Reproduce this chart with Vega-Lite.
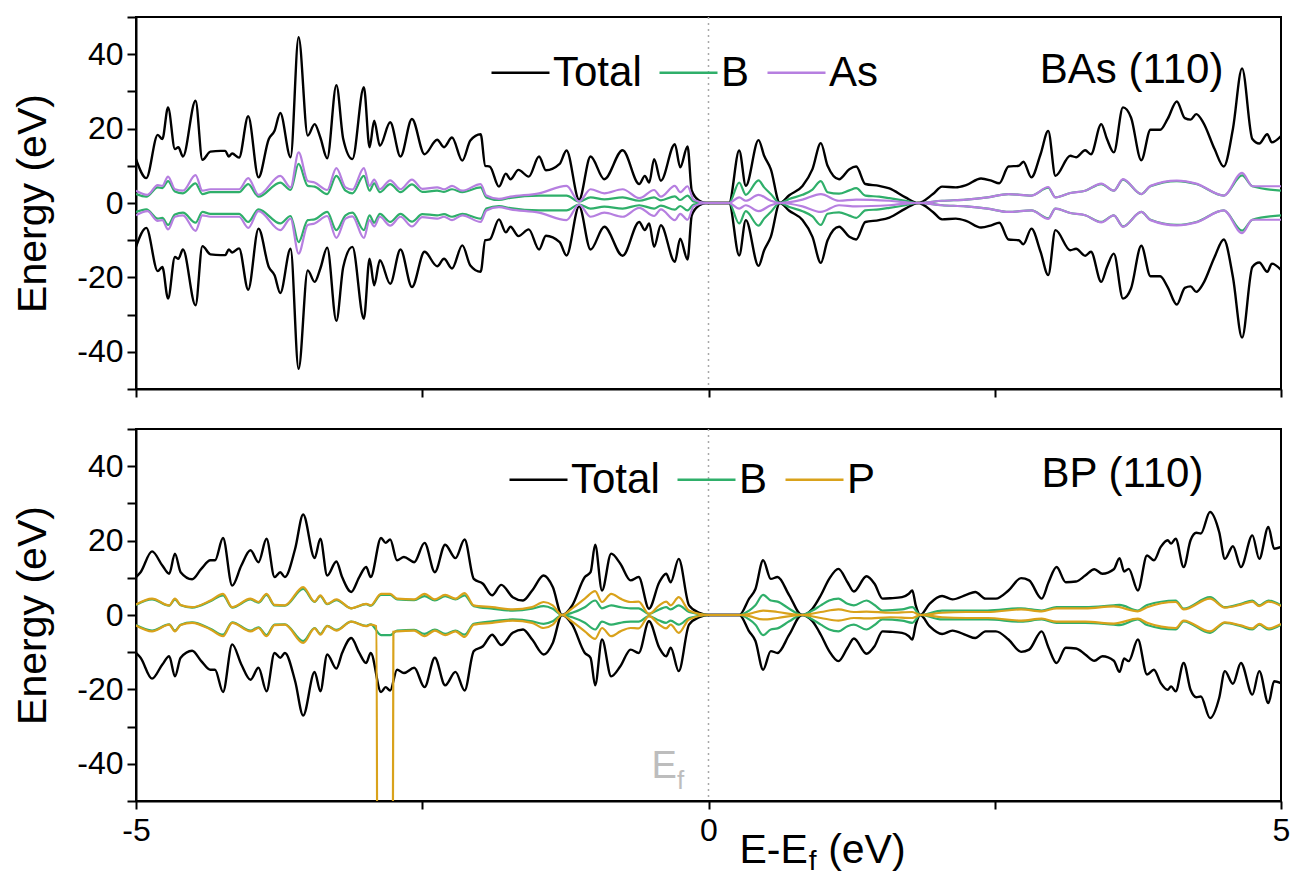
{
  "$schema": "https://vega.github.io/schema/vega-lite/v6.json",
  "background": "white",
  "padding": {"left": 11, "top": 0, "right": 2, "bottom": 2},
  "config": {
    "font": "Liberation Sans",
    "view": {"stroke": "black", "strokeWidth": 2},
    "axis": {"domainColor": "black", "domainWidth": 2, "tickColor": "black", "tickWidth": 2, "labelFont": "Liberation Sans", "labelFontSize": 32, "labelColor": "black", "labelOverlap": false, "titleFont": "Liberation Sans", "titleFontSize": 41, "titleFontWeight": "normal", "titleColor": "black", "grid": false},
    "legend": {"orient": "none", "direction": "horizontal", "symbolType": "stroke", "symbolSize": 3364, "symbolStrokeWidth": 2.5, "labelFont": "Liberation Sans", "labelFontSize": 42, "labelColor": "black", "labelOffset": 2, "columnPadding": 12, "padding": 0, "labelLimit": 400},
    "concat": {"spacing": 6}
  },
  "datasets": {
    "basTotal": [
      {"e":-5.0,"up":11.8,"dn":-11.8},{"e":-4.91,"up":6.7,"dn":-6.7},{"e":-4.81,"up":18.3,"dn":-18.3},{"e":-4.77,"up":17.2,"dn":-17.2},{"e":-4.72,"up":25.7,"dn":-25.7},{"e":-4.66,"up":14.5,"dn":-14.5},{"e":-4.63,"up":15.0,"dn":-15.0},{"e":-4.59,"up":12.5,"dn":-12.5},{"e":-4.48,"up":27.5,"dn":-27.5},{"e":-4.42,"up":11.6,"dn":-11.6},{"e":-4.35,"up":13.8,"dn":-13.8},{"e":-4.26,"up":14.0,"dn":-14.0},{"e":-4.22,"up":14.0,"dn":-14.0},{"e":-4.19,"up":12.5,"dn":-12.5},{"e":-4.16,"up":13.3,"dn":-13.3},{"e":-4.10,"up":12.2,"dn":-12.2},{"e":-4.02,"up":23.3,"dn":-23.3},{"e":-3.93,"up":6.9,"dn":-6.9},{"e":-3.84,"up":17.2,"dn":-17.2},{"e":-3.79,"up":19.4,"dn":-19.4},{"e":-3.74,"up":24.2,"dn":-24.2},{"e":-3.65,"up":12.3,"dn":-12.3},{"e":-3.58,"up":44.6,"dn":-44.6},{"e":-3.50,"up":18.1,"dn":-18.1},{"e":-3.44,"up":21.2,"dn":-21.2},{"e":-3.39,"up":17.6,"dn":-17.6},{"e":-3.33,"up":12.0,"dn":-12.0},{"e":-3.25,"up":31.7,"dn":-31.7},{"e":-3.19,"up":17.2,"dn":-17.2},{"e":-3.11,"up":11.8,"dn":-11.8},{"e":-3.01,"up":31.1,"dn":-31.1},{"e":-2.96,"up":15.0,"dn":-15.0},{"e":-2.92,"up":22.1,"dn":-22.1},{"e":-2.87,"up":15.4,"dn":-15.4},{"e":-2.78,"up":21.7,"dn":-21.7},{"e":-2.69,"up":12.5,"dn":-12.5},{"e":-2.59,"up":22.6,"dn":-22.6},{"e":-2.48,"up":13.1,"dn":-13.1},{"e":-2.37,"up":17.0,"dn":-17.0},{"e":-2.31,"up":15.0,"dn":-15.0},{"e":-2.24,"up":17.6,"dn":-17.6},{"e":-2.15,"up":11.4,"dn":-11.4},{"e":-2.08,"up":16.8,"dn":-16.8},{"e":-1.99,"up":18.5,"dn":-18.5},{"e":-1.95,"up":10.0,"dn":-10.0},{"e":-1.91,"up":9.8,"dn":-9.8},{"e":-1.83,"up":4.4,"dn":-4.4},{"e":-1.77,"up":7.9,"dn":-7.9},{"e":-1.73,"up":6.4,"dn":-6.4},{"e":-1.66,"up":8.9,"dn":-8.9},{"e":-1.57,"up":7.1,"dn":-7.1},{"e":-1.48,"up":12.5,"dn":-12.5},{"e":-1.42,"up":8.8,"dn":-8.8},{"e":-1.30,"up":10.5,"dn":-10.5},{"e":-1.24,"up":14.1,"dn":-14.1},{"e":-1.13,"up":0.9,"dn":-0.9},{"e":-1.03,"up":12.5,"dn":-12.5},{"e":-0.91,"up":6.4,"dn":-6.4},{"e":-0.75,"up":14.2,"dn":-14.2},{"e":-0.605,"up":5.1,"dn":-5.1},{"e":-0.556,"up":7.3,"dn":-7.3},{"e":-0.518,"up":5.5,"dn":-5.5},{"e":-0.475,"up":11.8,"dn":-11.8},{"e":-0.416,"up":6.0,"dn":-6.0},{"e":-0.294,"up":15.8,"dn":-15.8},{"e":-0.247,"up":9.6,"dn":-9.6},{"e":-0.183,"up":15.2,"dn":-15.2},{"e":-0.146,"up":3.3,"dn":-3.3},{"e":-0.08,"up":0.6,"dn":-0.6},{"e":-0.02,"up":0,"dn":0},{"e":0.18,"up":0,"dn":0},{"e":0.268,"up":14.1,"dn":-14.1},{"e":0.326,"up":4.6,"dn":-4.6},{"e":0.437,"up":16.9,"dn":-16.9},{"e":0.486,"up":12.7,"dn":-12.7},{"e":0.544,"up":9.1,"dn":-9.1},{"e":0.623,"up":0,"dn":0},{"e":0.705,"up":2.1,"dn":-2.1},{"e":0.821,"up":4.6,"dn":-4.6},{"e":0.908,"up":9.1,"dn":-9.1},{"e":0.981,"up":16.1,"dn":-16.1},{"e":1.04,"up":10.0,"dn":-10.0},{"e":1.14,"up":6.4,"dn":-6.4},{"e":1.23,"up":9.1,"dn":-9.1},{"e":1.29,"up":9.8,"dn":-9.8},{"e":1.37,"up":5.1,"dn":-5.1},{"e":1.49,"up":4.6,"dn":-4.6},{"e":1.58,"up":3.9,"dn":-3.9},{"e":1.72,"up":1.5,"dn":-1.5},{"e":1.83,"up":0,"dn":0},{"e":1.96,"up":2.4,"dn":-2.4},{"e":2.04,"up":4.4,"dn":-4.4},{"e":2.16,"up":4.2,"dn":-4.2},{"e":2.25,"up":4.8,"dn":-4.8},{"e":2.38,"up":6.6,"dn":-6.6},{"e":2.47,"up":6.0,"dn":-6.0},{"e":2.54,"up":5.3,"dn":-5.3},{"e":2.62,"up":9.8,"dn":-9.8},{"e":2.71,"up":10.0,"dn":-10.0},{"e":2.75,"up":11.1,"dn":-11.1},{"e":2.82,"up":6.9,"dn":-6.9},{"e":2.90,"up":13.1,"dn":-13.1},{"e":2.967,"up":19.4,"dn":-19.4},{"e":3.03,"up":7.3,"dn":-7.3},{"e":3.16,"up":12.7,"dn":-12.7},{"e":3.21,"up":12.3,"dn":-12.3},{"e":3.29,"up":14.2,"dn":-14.2},{"e":3.34,"up":13.1,"dn":-13.1},{"e":3.43,"up":21.2,"dn":-21.2},{"e":3.48,"up":17.2,"dn":-17.2},{"e":3.54,"up":13.6,"dn":-13.6},{"e":3.62,"up":25.7,"dn":-25.7},{"e":3.69,"up":23.0,"dn":-23.0},{"e":3.78,"up":11.5,"dn":-11.5},{"e":3.86,"up":19.7,"dn":-19.7},{"e":3.945,"up":19.7,"dn":-19.7},{"e":4.01,"up":22.6,"dn":-22.6},{"e":4.09,"up":27.3,"dn":-27.3},{"e":4.16,"up":22.8,"dn":-22.8},{"e":4.21,"up":22.4,"dn":-22.4},{"e":4.26,"up":23.9,"dn":-23.9},{"e":4.32,"up":21.7,"dn":-21.7},{"e":4.42,"up":14.5,"dn":-14.5},{"e":4.50,"up":9.8,"dn":-9.8},{"e":4.58,"up":19.9,"dn":-19.9},{"e":4.66,"up":36.2,"dn":-36.2},{"e":4.75,"up":17.2,"dn":-17.2},{"e":4.81,"up":16.0,"dn":-16.0},{"e":4.88,"up":18.5,"dn":-18.5},{"e":4.92,"up":16.3,"dn":-16.3},{"e":5.0,"up":18.0,"dn":-18.0}
    ],
    "basB": [
      {"e":-5.0,"up":2.4,"dn":-2.4},{"e":-4.91,"up":1.7,"dn":-1.7},{"e":-4.81,"up":4.2,"dn":-4.2},{"e":-4.77,"up":4.0,"dn":-4.0},{"e":-4.72,"up":5.9,"dn":-5.9},{"e":-4.66,"up":3.1,"dn":-3.1},{"e":-4.59,"up":2.6,"dn":-2.6},{"e":-4.48,"up":5.3,"dn":-5.3},{"e":-4.42,"up":2.4,"dn":-2.4},{"e":-4.35,"up":2.9,"dn":-2.9},{"e":-4.10,"up":2.9,"dn":-2.9},{"e":-4.02,"up":5.1,"dn":-5.1},{"e":-3.93,"up":1.7,"dn":-1.7},{"e":-3.74,"up":5.5,"dn":-5.5},{"e":-3.65,"up":3.5,"dn":-3.5},{"e":-3.58,"up":10.5,"dn":-10.5},{"e":-3.50,"up":4.6,"dn":-4.6},{"e":-3.44,"up":4.4,"dn":-4.4},{"e":-3.33,"up":2.4,"dn":-2.4},{"e":-3.25,"up":7.3,"dn":-7.3},{"e":-3.17,"up":3.3,"dn":-3.3},{"e":-3.11,"up":2.6,"dn":-2.6},{"e":-3.01,"up":7.3,"dn":-7.3},{"e":-2.96,"up":3.3,"dn":-3.3},{"e":-2.92,"up":5.3,"dn":-5.3},{"e":-2.87,"up":2.9,"dn":-2.9},{"e":-2.78,"up":5.1,"dn":-5.1},{"e":-2.69,"up":2.9,"dn":-2.9},{"e":-2.59,"up":5.0,"dn":-5.0},{"e":-2.50,"up":3.0,"dn":-3.0},{"e":-2.37,"up":3.3,"dn":-3.3},{"e":-2.31,"up":3.0,"dn":-3.0},{"e":-2.24,"up":3.7,"dn":-3.7},{"e":-2.15,"up":2.9,"dn":-2.9},{"e":-1.99,"up":4.2,"dn":-4.2},{"e":-1.94,"up":1.5,"dn":-1.5},{"e":-1.83,"up":0.8,"dn":-0.8},{"e":-1.73,"up":1.4,"dn":-1.4},{"e":-1.48,"up":2.0,"dn":-2.0},{"e":-1.24,"up":2.0,"dn":-2.0},{"e":-1.13,"up":0.4,"dn":-0.4},{"e":-1.03,"up":1.5,"dn":-1.5},{"e":-0.91,"up":1.0,"dn":-1.0},{"e":-0.75,"up":1.5,"dn":-1.5},{"e":-0.605,"up":0.6,"dn":-0.6},{"e":-0.475,"up":1.5,"dn":-1.5},{"e":-0.416,"up":0.7,"dn":-0.7},{"e":-0.294,"up":1.8,"dn":-1.8},{"e":-0.247,"up":0.8,"dn":-0.8},{"e":-0.183,"up":2.0,"dn":-2.0},{"e":-0.13,"up":0.4,"dn":-0.4},{"e":-0.02,"up":0,"dn":0},{"e":0.18,"up":0,"dn":0},{"e":0.268,"up":5.5,"dn":-5.5},{"e":0.326,"up":2.2,"dn":-2.2},{"e":0.437,"up":6.1,"dn":-6.1},{"e":0.486,"up":4.2,"dn":-4.2},{"e":0.544,"up":2.4,"dn":-2.4},{"e":0.623,"up":0,"dn":0},{"e":0.705,"up":1.1,"dn":-1.1},{"e":0.821,"up":2.2,"dn":-2.2},{"e":0.908,"up":3.6,"dn":-3.6},{"e":0.981,"up":5.9,"dn":-5.9},{"e":1.04,"up":2.9,"dn":-2.9},{"e":1.14,"up":2.5,"dn":-2.5},{"e":1.23,"up":3.4,"dn":-3.4},{"e":1.29,"up":4.0,"dn":-4.0},{"e":1.37,"up":2.0,"dn":-2.0},{"e":1.49,"up":1.7,"dn":-1.7},{"e":1.58,"up":1.3,"dn":-1.3},{"e":1.72,"up":0.6,"dn":-0.6},{"e":1.83,"up":0,"dn":0},{"e":2.04,"up":0.6,"dn":-0.6},{"e":2.25,"up":0.9,"dn":-0.9},{"e":2.437,"up":1.5,"dn":-1.5},{"e":2.62,"up":2.4,"dn":-2.4},{"e":2.82,"up":2.0,"dn":-2.0},{"e":2.967,"up":4.1,"dn":-4.1},{"e":3.03,"up":1.5,"dn":-1.5},{"e":3.16,"up":2.7,"dn":-2.7},{"e":3.29,"up":3.3,"dn":-3.3},{"e":3.43,"up":5.1,"dn":-5.1},{"e":3.54,"up":3.3,"dn":-3.3},{"e":3.62,"up":6.3,"dn":-6.3},{"e":3.78,"up":2.4,"dn":-2.4},{"e":3.86,"up":4.5,"dn":-4.5},{"e":4.09,"up":5.9,"dn":-5.9},{"e":4.26,"up":5.1,"dn":-5.1},{"e":4.50,"up":2.0,"dn":-2.0},{"e":4.66,"up":7.4,"dn":-7.4},{"e":4.75,"up":4.5,"dn":-4.5},{"e":5.0,"up":3.3,"dn":-3.3}
    ],
    "basAs": [
      {"e":-5.0,"up":3.3,"dn":-3.3},{"e":-4.90,"up":2.2,"dn":-2.2},{"e":-4.81,"up":4.8,"dn":-4.8},{"e":-4.77,"up":4.6,"dn":-4.6},{"e":-4.72,"up":7.1,"dn":-7.1},{"e":-4.66,"up":3.7,"dn":-3.7},{"e":-4.59,"up":3.3,"dn":-3.3},{"e":-4.48,"up":7.5,"dn":-7.5},{"e":-4.42,"up":3.3,"dn":-3.3},{"e":-4.35,"up":3.7,"dn":-3.7},{"e":-4.10,"up":3.7,"dn":-3.7},{"e":-4.02,"up":6.7,"dn":-6.7},{"e":-3.93,"up":2.2,"dn":-2.2},{"e":-3.74,"up":7.3,"dn":-7.3},{"e":-3.65,"up":4.2,"dn":-4.2},{"e":-3.58,"up":13.6,"dn":-13.6},{"e":-3.50,"up":5.9,"dn":-5.9},{"e":-3.44,"up":5.5,"dn":-5.5},{"e":-3.33,"up":3.5,"dn":-3.5},{"e":-3.25,"up":9.4,"dn":-9.4},{"e":-3.17,"up":4.2,"dn":-4.2},{"e":-3.11,"up":3.6,"dn":-3.6},{"e":-3.01,"up":9.4,"dn":-9.4},{"e":-2.96,"up":4.6,"dn":-4.6},{"e":-2.92,"up":6.3,"dn":-6.3},{"e":-2.87,"up":3.7,"dn":-3.7},{"e":-2.78,"up":6.1,"dn":-6.1},{"e":-2.69,"up":3.7,"dn":-3.7},{"e":-2.59,"up":6.3,"dn":-6.3},{"e":-2.50,"up":3.8,"dn":-3.8},{"e":-2.37,"up":4.2,"dn":-4.2},{"e":-2.31,"up":3.7,"dn":-3.7},{"e":-2.24,"up":4.6,"dn":-4.6},{"e":-2.15,"up":3.3,"dn":-3.3},{"e":-1.99,"up":5.1,"dn":-5.1},{"e":-1.94,"up":2.0,"dn":-2.0},{"e":-1.83,"up":1.1,"dn":-1.1},{"e":-1.73,"up":1.7,"dn":-1.7},{"e":-1.48,"up":2.6,"dn":-2.6},{"e":-1.24,"up":4.6,"dn":-4.6},{"e":-1.13,"up":0.4,"dn":-0.4},{"e":-1.03,"up":3.7,"dn":-3.7},{"e":-0.91,"up":2.6,"dn":-2.6},{"e":-0.75,"up":3.7,"dn":-3.7},{"e":-0.605,"up":1.3,"dn":-1.3},{"e":-0.475,"up":3.5,"dn":-3.5},{"e":-0.416,"up":1.7,"dn":-1.7},{"e":-0.294,"up":4.6,"dn":-4.6},{"e":-0.247,"up":2.9,"dn":-2.9},{"e":-0.183,"up":4.5,"dn":-4.5},{"e":-0.13,"up":0.9,"dn":-0.9},{"e":-0.02,"up":0,"dn":0},{"e":0.18,"up":0,"dn":0},{"e":0.268,"up":1.5,"dn":-1.5},{"e":0.326,"up":0.6,"dn":-0.6},{"e":0.437,"up":2.2,"dn":-2.2},{"e":0.544,"up":0.6,"dn":-0.6},{"e":0.623,"up":0,"dn":0},{"e":0.821,"up":0.9,"dn":-0.9},{"e":0.981,"up":2.4,"dn":-2.4},{"e":1.14,"up":0.6,"dn":-0.6},{"e":1.29,"up":0.9,"dn":-0.9},{"e":1.58,"up":0.6,"dn":-0.6},{"e":1.83,"up":0,"dn":0},{"e":2.04,"up":0.6,"dn":-0.6},{"e":2.25,"up":0.9,"dn":-0.9},{"e":2.437,"up":1.5,"dn":-1.5},{"e":2.62,"up":2.4,"dn":-2.4},{"e":2.82,"up":2.0,"dn":-2.0},{"e":2.967,"up":4.3,"dn":-4.3},{"e":3.03,"up":1.5,"dn":-1.5},{"e":3.16,"up":2.7,"dn":-2.7},{"e":3.29,"up":3.3,"dn":-3.3},{"e":3.43,"up":5.2,"dn":-5.2},{"e":3.54,"up":3.3,"dn":-3.3},{"e":3.62,"up":6.4,"dn":-6.4},{"e":3.78,"up":2.4,"dn":-2.4},{"e":3.86,"up":4.6,"dn":-4.6},{"e":4.09,"up":6.0,"dn":-6.0},{"e":4.26,"up":5.2,"dn":-5.2},{"e":4.50,"up":2.0,"dn":-2.0},{"e":4.66,"up":8.1,"dn":-8.1},{"e":4.75,"up":4.5,"dn":-4.5},{"e":5.0,"up":4.5,"dn":-4.5}
    ],
    "bpTotal": [
      {"e":-5.0,"up":10.2,"dn":-10.2},{"e":-4.96,"up":11.5,"dn":-11.5},{"e":-4.86,"up":17.1,"dn":-17.1},{"e":-4.77,"up":13.3,"dn":-13.3},{"e":-4.71,"up":11.1,"dn":-11.1},{"e":-4.66,"up":16.5,"dn":-16.5},{"e":-4.61,"up":11.5,"dn":-11.5},{"e":-4.51,"up":9.6,"dn":-9.6},{"e":-4.43,"up":12.4,"dn":-12.4},{"e":-4.35,"up":14.7,"dn":-14.7},{"e":-4.31,"up":14.7,"dn":-14.7},{"e":-4.24,"up":20.7,"dn":-20.7},{"e":-4.16,"up":7.9,"dn":-7.9},{"e":-4.08,"up":13.3,"dn":-13.3},{"e":-4.00,"up":17.4,"dn":-17.4},{"e":-3.93,"up":14.2,"dn":-14.2},{"e":-3.86,"up":20.5,"dn":-20.5},{"e":-3.79,"up":10.2,"dn":-10.2},{"e":-3.74,"up":11.5,"dn":-11.5},{"e":-3.70,"up":10.2,"dn":-10.2},{"e":-3.61,"up":17.8,"dn":-17.8},{"e":-3.54,"up":27.0,"dn":-27.0},{"e":-3.44,"up":15.3,"dn":-15.3},{"e":-3.39,"up":20.5,"dn":-20.5},{"e":-3.33,"up":10.6,"dn":-10.6},{"e":-3.25,"up":14.4,"dn":-14.4},{"e":-3.20,"up":10.2,"dn":-10.2},{"e":-3.12,"up":6.2,"dn":-6.2},{"e":-3.05,"up":10.2,"dn":-10.2},{"e":-2.99,"up":12.9,"dn":-12.9},{"e":-2.95,"up":10.2,"dn":-10.2},{"e":-2.86,"up":20.7,"dn":-20.7},{"e":-2.82,"up":19.4,"dn":-19.4},{"e":-2.78,"up":20.3,"dn":-20.3},{"e":-2.72,"up":14.7,"dn":-14.7},{"e":-2.66,"up":15.6,"dn":-15.6},{"e":-2.57,"up":14.2,"dn":-14.2},{"e":-2.48,"up":19.4,"dn":-19.4},{"e":-2.39,"up":11.5,"dn":-11.5},{"e":-2.30,"up":18.9,"dn":-18.9},{"e":-2.21,"up":15.3,"dn":-15.3},{"e":-2.13,"up":20.3,"dn":-20.3},{"e":-2.05,"up":9.7,"dn":-9.7},{"e":-1.97,"up":8.4,"dn":-8.4},{"e":-1.89,"up":5.3,"dn":-5.3},{"e":-1.81,"up":8.1,"dn":-8.1},{"e":-1.71,"up":4.8,"dn":-4.8},{"e":-1.62,"up":3.9,"dn":-3.9},{"e":-1.54,"up":6.6,"dn":-6.6},{"e":-1.44,"up":10.6,"dn":-10.6},{"e":-1.36,"up":7.5,"dn":-7.5},{"e":-1.28,"up":0,"dn":0},{"e":-1.19,"up":2.6,"dn":-2.6},{"e":-1.08,"up":10.2,"dn":-10.2},{"e":-1.03,"up":11.5,"dn":-11.5},{"e":-0.99,"up":18.9,"dn":-18.9},{"e":-0.93,"up":6.6,"dn":-6.6},{"e":-0.85,"up":16.5,"dn":-16.5},{"e":-0.77,"up":13.8,"dn":-13.8},{"e":-0.68,"up":9.3,"dn":-9.3},{"e":-0.61,"up":10.2,"dn":-10.2},{"e":-0.52,"up":1.7,"dn":-1.7},{"e":-0.43,"up":8.8,"dn":-8.8},{"e":-0.37,"up":11.1,"dn":-11.1},{"e":-0.33,"up":8.8,"dn":-8.8},{"e":-0.26,"up":15.1,"dn":-15.1},{"e":-0.17,"up":2.6,"dn":-2.6},{"e":-0.08,"up":0.6,"dn":-0.6},{"e":0.0,"up":0,"dn":0},{"e":0.27,"up":0,"dn":0},{"e":0.355,"up":4.4,"dn":-4.4},{"e":0.41,"up":7.0,"dn":-7.0},{"e":0.477,"up":14.7,"dn":-14.7},{"e":0.544,"up":9.7,"dn":-9.7},{"e":0.603,"up":10.2,"dn":-10.2},{"e":0.705,"up":5.3,"dn":-5.3},{"e":0.815,"up":0,"dn":0},{"e":0.908,"up":1.7,"dn":-1.7},{"e":0.981,"up":5.3,"dn":-5.3},{"e":1.054,"up":9.7,"dn":-9.7},{"e":1.135,"up":12.4,"dn":-12.4},{"e":1.214,"up":8.8,"dn":-8.8},{"e":1.27,"up":6.3,"dn":-6.3},{"e":1.38,"up":10.4,"dn":-10.4},{"e":1.45,"up":8.4,"dn":-8.4},{"e":1.52,"up":4.4,"dn":-4.4},{"e":1.59,"up":4.5,"dn":-4.5},{"e":1.69,"up":4.8,"dn":-4.8},{"e":1.75,"up":5.7,"dn":-5.7},{"e":1.78,"up":6.6,"dn":-6.6},{"e":1.81,"up":2.6,"dn":-2.6},{"e":1.85,"up":0,"dn":0},{"e":1.93,"up":3.0,"dn":-3.0},{"e":2.04,"up":5.1,"dn":-5.1},{"e":2.13,"up":4.2,"dn":-4.2},{"e":2.25,"up":5.4,"dn":-5.4},{"e":2.33,"up":6.2,"dn":-6.2},{"e":2.42,"up":4.4,"dn":-4.4},{"e":2.51,"up":4.4,"dn":-4.4},{"e":2.62,"up":6.6,"dn":-6.6},{"e":2.73,"up":9.9,"dn":-9.9},{"e":2.80,"up":9.3,"dn":-9.3},{"e":2.91,"up":4.4,"dn":-4.4},{"e":2.97,"up":8.8,"dn":-8.8},{"e":3.04,"up":12.9,"dn":-12.9},{"e":3.12,"up":8.8,"dn":-8.8},{"e":3.21,"up":9.0,"dn":-9.0},{"e":3.29,"up":10.6,"dn":-10.6},{"e":3.37,"up":12.3,"dn":-12.3},{"e":3.44,"up":11.1,"dn":-11.1},{"e":3.54,"up":12.3,"dn":-12.3},{"e":3.59,"up":15.3,"dn":-15.3},{"e":3.63,"up":11.7,"dn":-11.7},{"e":3.67,"up":12.4,"dn":-12.4},{"e":3.75,"up":6.6,"dn":-6.6},{"e":3.83,"up":16.0,"dn":-16.0},{"e":3.89,"up":14.7,"dn":-14.7},{"e":3.95,"up":18.3,"dn":-18.3},{"e":4.01,"up":20.1,"dn":-20.1},{"e":4.04,"up":19.2,"dn":-19.2},{"e":4.08,"up":20.5,"dn":-20.5},{"e":4.15,"up":12.9,"dn":-12.9},{"e":4.21,"up":20.1,"dn":-20.1},{"e":4.26,"up":22.1,"dn":-22.1},{"e":4.30,"up":21.9,"dn":-21.9},{"e":4.38,"up":27.7,"dn":-27.7},{"e":4.46,"up":22.3,"dn":-22.3},{"e":4.51,"up":15.1,"dn":-15.1},{"e":4.58,"up":18.5,"dn":-18.5},{"e":4.65,"up":12.9,"dn":-12.9},{"e":4.75,"up":21.4,"dn":-21.4},{"e":4.81,"up":15.1,"dn":-15.1},{"e":4.89,"up":23.7,"dn":-23.7},{"e":4.94,"up":17.8,"dn":-17.8},{"e":5.0,"up":18.3,"dn":-18.3}
    ],
    "bpB": [
      {"e":-5.0,"up":2.7,"dn":-2.7},{"e":-4.86,"up":4.2,"dn":-4.2},{"e":-4.71,"up":2.5,"dn":-2.5},{"e":-4.66,"up":4.2,"dn":-4.2},{"e":-4.61,"up":2.6,"dn":-2.6},{"e":-4.51,"up":2.0,"dn":-2.0},{"e":-4.35,"up":3.7,"dn":-3.7},{"e":-4.24,"up":5.3,"dn":-5.3},{"e":-4.16,"up":2.0,"dn":-2.0},{"e":-4.00,"up":4.2,"dn":-4.2},{"e":-3.93,"up":3.3,"dn":-3.3},{"e":-3.86,"up":5.4,"dn":-5.4},{"e":-3.79,"up":2.6,"dn":-2.6},{"e":-3.70,"up":2.5,"dn":-2.5},{"e":-3.54,"up":7.0,"dn":-7.0},{"e":-3.44,"up":3.5,"dn":-3.5},{"e":-3.39,"up":5.1,"dn":-5.1},{"e":-3.33,"up":2.9,"dn":-2.9},{"e":-3.25,"up":4.0,"dn":-4.0},{"e":-3.12,"up":1.8,"dn":-1.8},{"e":-2.99,"up":2.9,"dn":-2.9},{"e":-2.95,"up":2.5,"dn":-2.5},{"e":-2.86,"up":5.4,"dn":-5.4},{"e":-2.78,"up":5.4,"dn":-5.4},{"e":-2.72,"up":4.2,"dn":-4.2},{"e":-2.57,"up":4.0,"dn":-4.0},{"e":-2.48,"up":5.1,"dn":-5.1},{"e":-2.39,"up":3.9,"dn":-3.9},{"e":-2.30,"up":5.1,"dn":-5.1},{"e":-2.21,"up":4.2,"dn":-4.2},{"e":-2.13,"up":5.3,"dn":-5.3},{"e":-2.05,"up":2.4,"dn":-2.4},{"e":-1.89,"up":1.7,"dn":-1.7},{"e":-1.71,"up":1.2,"dn":-1.2},{"e":-1.54,"up":1.7,"dn":-1.7},{"e":-1.44,"up":2.4,"dn":-2.4},{"e":-1.36,"up":1.7,"dn":-1.7},{"e":-1.28,"up":0,"dn":0},{"e":-1.19,"up":0.6,"dn":-0.6},{"e":-1.08,"up":2.1,"dn":-2.1},{"e":-0.99,"up":3.9,"dn":-3.9},{"e":-0.93,"up":1.8,"dn":-1.8},{"e":-0.85,"up":2.6,"dn":-2.6},{"e":-0.77,"up":2.1,"dn":-2.1},{"e":-0.68,"up":1.8,"dn":-1.8},{"e":-0.61,"up":1.8,"dn":-1.8},{"e":-0.52,"up":0.3,"dn":-0.3},{"e":-0.43,"up":1.5,"dn":-1.5},{"e":-0.37,"up":2.1,"dn":-2.1},{"e":-0.33,"up":1.5,"dn":-1.5},{"e":-0.26,"up":2.6,"dn":-2.6},{"e":-0.17,"up":0.8,"dn":-0.8},{"e":0.0,"up":0,"dn":0},{"e":0.27,"up":0,"dn":0},{"e":0.355,"up":1.2,"dn":-1.2},{"e":0.41,"up":2.6,"dn":-2.6},{"e":0.477,"up":5.4,"dn":-5.4},{"e":0.544,"up":3.9,"dn":-3.9},{"e":0.603,"up":3.6,"dn":-3.6},{"e":0.705,"up":1.7,"dn":-1.7},{"e":0.815,"up":0,"dn":0},{"e":0.908,"up":1.2,"dn":-1.2},{"e":0.981,"up":2.6,"dn":-2.6},{"e":1.054,"up":3.9,"dn":-3.9},{"e":1.135,"up":4.4,"dn":-4.4},{"e":1.214,"up":3.0,"dn":-3.0},{"e":1.27,"up":2.6,"dn":-2.6},{"e":1.38,"up":3.9,"dn":-3.9},{"e":1.45,"up":2.7,"dn":-2.7},{"e":1.52,"up":1.2,"dn":-1.2},{"e":1.69,"up":1.5,"dn":-1.5},{"e":1.78,"up":2.1,"dn":-2.1},{"e":1.85,"up":0,"dn":0},{"e":2.04,"up":1.2,"dn":-1.2},{"e":2.25,"up":1.2,"dn":-1.2},{"e":2.437,"up":1.2,"dn":-1.2},{"e":2.73,"up":1.8,"dn":-1.8},{"e":2.91,"up":1.2,"dn":-1.2},{"e":3.04,"up":2.1,"dn":-2.1},{"e":3.29,"up":2.1,"dn":-2.1},{"e":3.54,"up":2.6,"dn":-2.6},{"e":3.59,"up":2.7,"dn":-2.7},{"e":3.75,"up":1.2,"dn":-1.2},{"e":3.83,"up":2.7,"dn":-2.7},{"e":4.08,"up":3.9,"dn":-3.9},{"e":4.15,"up":1.7,"dn":-1.7},{"e":4.38,"up":4.8,"dn":-4.8},{"e":4.51,"up":2.1,"dn":-2.1},{"e":4.65,"up":3.0,"dn":-3.0},{"e":4.75,"up":3.9,"dn":-3.9},{"e":4.81,"up":2.6,"dn":-2.6},{"e":4.89,"up":3.9,"dn":-3.9},{"e":5.0,"up":2.6,"dn":-2.6}
    ],
    "bpPup": [
      {"e":-5.0,"v":2.8},{"e":-4.86,"v":4.4},{"e":-4.71,"v":2.6},{"e":-4.66,"v":4.4},{"e":-4.61,"v":2.7},{"e":-4.51,"v":2.1},{"e":-4.35,"v":3.9},{"e":-4.24,"v":5.7},{"e":-4.16,"v":2.1},{"e":-4.00,"v":4.4},{"e":-3.93,"v":3.5},{"e":-3.86,"v":5.7},{"e":-3.79,"v":2.7},{"e":-3.70,"v":2.6},{"e":-3.54,"v":7.5},{"e":-3.44,"v":3.6},{"e":-3.39,"v":5.3},{"e":-3.33,"v":3.0},{"e":-3.25,"v":4.2},{"e":-3.12,"v":1.8},{"e":-2.99,"v":3.0},{"e":-2.95,"v":2.6},{"e":-2.86,"v":5.7},{"e":-2.78,"v":5.7},{"e":-2.72,"v":4.4},{"e":-2.57,"v":4.2},{"e":-2.48,"v":5.7},{"e":-2.39,"v":4.2},{"e":-2.30,"v":5.4},{"e":-2.21,"v":4.4},{"e":-2.13,"v":5.9},{"e":-2.05,"v":2.6},{"e":-1.89,"v":2.1},{"e":-1.71,"v":1.5},{"e":-1.54,"v":2.1},{"e":-1.44,"v":3.5},{"e":-1.36,"v":2.6},{"e":-1.28,"v":0},{"e":-1.19,"v":1.8},{"e":-1.08,"v":4.4},{"e":-0.99,"v":6.4},{"e":-0.93,"v":3.5},{"e":-0.85,"v":5.7},{"e":-0.77,"v":4.4},{"e":-0.68,"v":3.5},{"e":-0.61,"v":3.6},{"e":-0.52,"v":0.3},{"e":-0.43,"v":2.6},{"e":-0.37,"v":3.6},{"e":-0.33,"v":2.6},{"e":-0.26,"v":4.8},{"e":-0.17,"v":1.2},{"e":0.0,"v":0},{"e":0.27,"v":0},{"e":0.355,"v":0.3},{"e":0.477,"v":1.2},{"e":0.603,"v":0.8},{"e":0.815,"v":0},{"e":0.981,"v":0.8},{"e":1.135,"v":1.5},{"e":1.27,"v":0.8},{"e":1.38,"v":0.9},{"e":1.59,"v":0.6},{"e":1.78,"v":0.8},{"e":1.85,"v":0},{"e":2.04,"v":0.6},{"e":2.25,"v":0.8},{"e":2.437,"v":0.8},{"e":2.73,"v":1.5},{"e":2.91,"v":1.0},{"e":3.04,"v":1.8},{"e":3.29,"v":1.8},{"e":3.54,"v":2.3},{"e":3.75,"v":1.0},{"e":3.83,"v":2.1},{"e":4.08,"v":3.5},{"e":4.15,"v":1.5},{"e":4.38,"v":4.4},{"e":4.51,"v":2.0},{"e":4.65,"v":2.8},{"e":4.75,"v":3.6},{"e":4.81,"v":2.4},{"e":4.89,"v":3.6},{"e":5.0,"v":2.4}
    ],
    "bpPdn": [
      {"e":-5.0,"v":-2.8},{"e":-4.86,"v":-4.4},{"e":-4.71,"v":-2.6},{"e":-4.66,"v":-4.4},{"e":-4.61,"v":-2.7},{"e":-4.51,"v":-2.1},{"e":-4.35,"v":-3.9},{"e":-4.24,"v":-5.7},{"e":-4.16,"v":-2.1},{"e":-4.00,"v":-4.4},{"e":-3.93,"v":-3.5},{"e":-3.86,"v":-5.7},{"e":-3.79,"v":-2.7},{"e":-3.70,"v":-2.6},{"e":-3.54,"v":-7.5},{"e":-3.44,"v":-3.6},{"e":-3.39,"v":-5.3},{"e":-3.33,"v":-3.0},{"e":-3.25,"v":-4.2},{"e":-3.12,"v":-1.8},{"e":-2.99,"v":-3.0},{"e":-2.95,"v":-2.6},{"e":-2.90,"v":-3.0},{"e":-2.885,"v":-160},{"e":-2.765,"v":-160},{"e":-2.752,"v":-4.5},{"e":-2.72,"v":-4.4},{"e":-2.57,"v":-4.2},{"e":-2.48,"v":-5.7},{"e":-2.39,"v":-4.2},{"e":-2.30,"v":-5.4},{"e":-2.21,"v":-4.4},{"e":-2.13,"v":-5.9},{"e":-2.05,"v":-2.6},{"e":-1.89,"v":-2.1},{"e":-1.71,"v":-1.5},{"e":-1.54,"v":-2.1},{"e":-1.44,"v":-3.5},{"e":-1.36,"v":-2.6},{"e":-1.28,"v":0},{"e":-1.19,"v":-1.8},{"e":-1.08,"v":-4.4},{"e":-0.99,"v":-6.4},{"e":-0.93,"v":-3.5},{"e":-0.85,"v":-5.7},{"e":-0.77,"v":-4.4},{"e":-0.68,"v":-3.5},{"e":-0.61,"v":-3.6},{"e":-0.52,"v":-0.3},{"e":-0.43,"v":-2.6},{"e":-0.37,"v":-3.6},{"e":-0.33,"v":-2.6},{"e":-0.26,"v":-4.8},{"e":-0.17,"v":-1.2},{"e":0.0,"v":0},{"e":0.27,"v":0},{"e":0.355,"v":-0.3},{"e":0.477,"v":-1.2},{"e":0.603,"v":-0.8},{"e":0.815,"v":0},{"e":0.981,"v":-0.8},{"e":1.135,"v":-1.5},{"e":1.27,"v":-0.8},{"e":1.38,"v":-0.9},{"e":1.59,"v":-0.6},{"e":1.78,"v":-0.8},{"e":1.85,"v":0},{"e":2.04,"v":-0.6},{"e":2.25,"v":-0.8},{"e":2.437,"v":-0.8},{"e":2.73,"v":-1.5},{"e":2.91,"v":-1.0},{"e":3.04,"v":-1.8},{"e":3.29,"v":-1.8},{"e":3.54,"v":-2.3},{"e":3.75,"v":-1.0},{"e":3.83,"v":-2.1},{"e":4.08,"v":-3.5},{"e":4.15,"v":-1.5},{"e":4.38,"v":-4.4},{"e":4.51,"v":-2.0},{"e":4.65,"v":-2.8},{"e":4.75,"v":-3.6},{"e":4.81,"v":-2.4},{"e":4.89,"v":-3.6},{"e":5.0,"v":-2.4}
    ],
    "notes": [{"t": "note"}]
  },
  "resolve": {"scale": {"color": "independent"}},
  "vconcat": [
    {
      "width": 1145,
      "height": 372,
      "layer": [
        {"data": {"name": "notes"}, "mark": {"type": "rule", "color": "#a8a8a8", "strokeDash": [2, 4], "strokeWidth": 1.5}, "encoding": {"x": {"datum": 0, "type": "quantitative"}}},
        {"data": {"name": "basTotal"}, "mark": {"type": "line", "interpolate": "monotone", "strokeWidth": 2.4, "clip": true},
         "encoding": {
           "x": {"field": "e", "type": "quantitative", "scale": {"domain": [-5, 5], "nice": false, "zero": false},
                 "axis": {"values": [-5, -2.5, 0, 2.5, 5], "labels": false, "title": null, "tickSize": 8}},
           "y": {"field": "up", "type": "quantitative", "scale": {"domain": [-50, 50], "nice": false},
                 "axis": {"values": [-50, -40, -30, -20, -10, 0, 10, 20, 30, 40, 50], "tickCount": 30, "labelExpr": "datum.value == 40 || datum.value == 20 || datum.value == 0 || datum.value == -20 || datum.value == -40 ? toString(datum.value) : ''", "tickSize": 9, "encode": {"ticks": {"update": {"x2": {"signal": "datum.value % 20 == 0 ? -9 : -5"}}}}, "labelPadding": 4, "title": "Energy (eV)", "titlePadding": 22}},
           "color": {"datum": "Total", "type": "nominal", "scale": {"domain": ["Total", "B", "As"], "range": ["#000000", "#2FAF6A", "#B67FE0"]},
                     "legend": {"title": null, "legendX": 354, "legendY": 25}}
         }},
        {"data": {"name": "basTotal"}, "mark": {"type": "line", "interpolate": "monotone", "strokeWidth": 2.4, "clip": true},
         "encoding": {"x": {"field": "e", "type": "quantitative"}, "y": {"field": "dn", "type": "quantitative"}, "color": {"datum": "Total", "type": "nominal"}}},
        {"data": {"name": "basB"}, "mark": {"type": "line", "interpolate": "monotone", "strokeWidth": 2.2, "clip": true},
         "encoding": {"x": {"field": "e", "type": "quantitative"}, "y": {"field": "up", "type": "quantitative"}, "color": {"datum": "B", "type": "nominal"}}},
        {"data": {"name": "basB"}, "mark": {"type": "line", "interpolate": "monotone", "strokeWidth": 2.2, "clip": true},
         "encoding": {"x": {"field": "e", "type": "quantitative"}, "y": {"field": "dn", "type": "quantitative"}, "color": {"datum": "B", "type": "nominal"}}},
        {"data": {"name": "basAs"}, "mark": {"type": "line", "interpolate": "monotone", "strokeWidth": 2.2, "clip": true},
         "encoding": {"x": {"field": "e", "type": "quantitative"}, "y": {"field": "up", "type": "quantitative"}, "color": {"datum": "As", "type": "nominal"}}},
        {"data": {"name": "basAs"}, "mark": {"type": "line", "interpolate": "monotone", "strokeWidth": 2.2, "clip": true},
         "encoding": {"x": {"field": "e", "type": "quantitative"}, "y": {"field": "dn", "type": "quantitative"}, "color": {"datum": "As", "type": "nominal"}}},
        {"data": {"name": "notes"}, "mark": {"type": "text", "text": "BAs (110)", "font": "Liberation Sans", "fontSize": 42, "align": "center", "baseline": "alphabetic", "color": "black"},
         "encoding": {"x": {"datum": 3.695, "type": "quantitative"}, "y": {"datum": 32.3, "type": "quantitative"}}}
      ]
    },
    {
      "width": 1145,
      "height": 372,
      "layer": [
        {"data": {"name": "notes"}, "mark": {"type": "rule", "color": "#a8a8a8", "strokeDash": [2, 4], "strokeWidth": 1.5}, "encoding": {"x": {"datum": 0, "type": "quantitative"}}},
        {"data": {"name": "bpTotal"}, "mark": {"type": "line", "interpolate": "monotone", "strokeWidth": 2.4, "clip": true},
         "encoding": {
           "x": {"field": "e", "type": "quantitative", "scale": {"domain": [-5, 5], "nice": false, "zero": false},
                 "axis": {"values": [-5, -2.5, 0, 2.5, 5], "labelFlush": false, "labelExpr": "datum.value == -5 || datum.value == 0 || datum.value == 5 ? toString(datum.value) : ''", "title": null, "tickSize": 8, "labelPadding": 6}},
           "y": {"field": "up", "type": "quantitative", "scale": {"domain": [-50, 50], "nice": false},
                 "axis": {"values": [-50, -40, -30, -20, -10, 0, 10, 20, 30, 40, 50], "tickCount": 30, "labelExpr": "datum.value == 40 || datum.value == 20 || datum.value == 0 || datum.value == -20 || datum.value == -40 ? toString(datum.value) : ''", "tickSize": 9, "encode": {"ticks": {"update": {"x2": {"signal": "datum.value % 20 == 0 ? -9 : -5"}}}}, "labelPadding": 4, "title": "Energy (eV)", "titlePadding": 22}},
           "color": {"datum": "Total", "type": "nominal", "scale": {"domain": ["Total", "B", "P"], "range": ["#000000", "#2FAF6A", "#D9A21B"]},
                     "legend": {"title": null, "legendX": 372, "legendY": 20}}
         }},
        {"data": {"name": "bpTotal"}, "mark": {"type": "line", "interpolate": "monotone", "strokeWidth": 2.4, "clip": true},
         "encoding": {"x": {"field": "e", "type": "quantitative"}, "y": {"field": "dn", "type": "quantitative"}, "color": {"datum": "Total", "type": "nominal"}}},
        {"data": {"name": "bpB"}, "mark": {"type": "line", "interpolate": "monotone", "strokeWidth": 2.2, "clip": true},
         "encoding": {"x": {"field": "e", "type": "quantitative"}, "y": {"field": "up", "type": "quantitative"}, "color": {"datum": "B", "type": "nominal"}}},
        {"data": {"name": "bpB"}, "mark": {"type": "line", "interpolate": "monotone", "strokeWidth": 2.2, "clip": true},
         "encoding": {"x": {"field": "e", "type": "quantitative"}, "y": {"field": "dn", "type": "quantitative"}, "color": {"datum": "B", "type": "nominal"}}},
        {"data": {"name": "bpPup"}, "mark": {"type": "line", "interpolate": "monotone", "strokeWidth": 2.2, "clip": true},
         "encoding": {"x": {"field": "e", "type": "quantitative"}, "y": {"field": "v", "type": "quantitative"}, "color": {"datum": "P", "type": "nominal"}}},
        {"data": {"name": "bpPdn"}, "mark": {"type": "line", "interpolate": "monotone", "strokeWidth": 2.2, "clip": true},
         "encoding": {"x": {"field": "e", "type": "quantitative"}, "y": {"field": "v", "type": "quantitative"}, "color": {"datum": "P", "type": "nominal"}}},
        {"data": {"name": "notes"}, "mark": {"type": "text", "text": "BP (110)", "font": "Liberation Sans", "fontSize": 42, "align": "center", "baseline": "alphabetic", "color": "black"},
         "encoding": {"x": {"datum": 3.616, "type": "quantitative"}, "y": {"datum": 34.4, "type": "quantitative"}}},
        {"data": {"name": "notes"}, "mark": {"type": "text", "text": "E", "font": "Liberation Sans", "fontSize": 38, "align": "left", "baseline": "alphabetic", "color": "#bdbdbd"},
         "encoding": {"x": {"datum": -0.498, "type": "quantitative"}, "y": {"datum": -43.8, "type": "quantitative"}}},
        {"data": {"name": "notes"}, "mark": {"type": "text", "text": "f", "font": "Liberation Sans", "fontSize": 26, "align": "left", "baseline": "alphabetic", "color": "#bdbdbd"},
         "encoding": {"x": {"datum": -0.275, "type": "quantitative"}, "y": {"datum": -46.7, "type": "quantitative"}}},
        {"data": {"name": "notes"}, "mark": {"type": "text", "text": "E-E", "font": "Liberation Sans", "fontSize": 41, "align": "left", "baseline": "alphabetic", "color": "black"},
         "encoding": {"x": {"datum": 0.27, "type": "quantitative"}, "y": {"datum": -66.6, "type": "quantitative"}}},
        {"data": {"name": "notes"}, "mark": {"type": "text", "text": "f", "font": "Liberation Sans", "fontSize": 28, "align": "left", "baseline": "alphabetic", "color": "black"},
         "encoding": {"x": {"datum": 0.875, "type": "quantitative"}, "y": {"datum": -68.6, "type": "quantitative"}}},
        {"data": {"name": "notes"}, "mark": {"type": "text", "text": "(eV)", "font": "Liberation Sans", "fontSize": 41, "align": "left", "baseline": "alphabetic", "color": "black"},
         "encoding": {"x": {"datum": 1.045, "type": "quantitative"}, "y": {"datum": -66.6, "type": "quantitative"}}}
      ]
    }
  ]
}
